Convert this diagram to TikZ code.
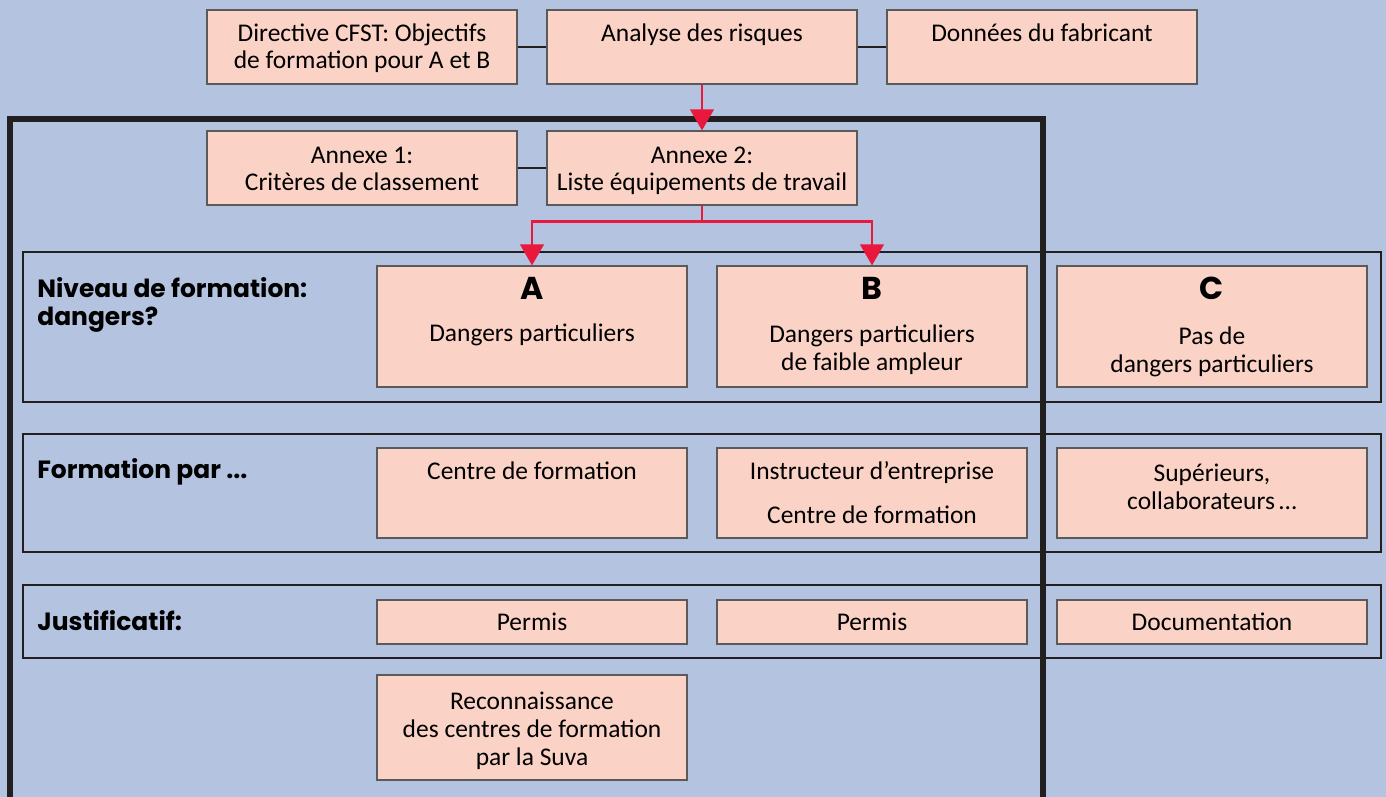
\documentclass[tikz,border=0pt]{standalone}
\usepackage{fontspec}
\setmainfont{Carlito}
\newfontfamily\headfont{Poppins}
\usetikzlibrary{arrows.meta}
\definecolor{bgblue}{HTML}{B3C3E0}
\definecolor{boxfill}{HTML}{FBD3C6}
\definecolor{boxline}{HTML}{5A5A5A}
\definecolor{frameblack}{HTML}{231F20}
\definecolor{arrowred}{HTML}{E8193C}

\begin{document}
\begin{tikzpicture}[x=0.02cm, y=-0.02cm,
    box/.style={draw=boxline, fill=boxfill, line width=0.7pt, inner sep=0pt, minimum width=6.2cm},
    txt/.style={align=center, inner sep=0pt, anchor=base, font=\fontsize{14.5}{15.9}\selectfont},
    head/.style={align=left, inner sep=0pt, anchor=base west, font=\headfont\bfseries\fontsize{14.2}{15.9}\selectfont},
    level/.style={inner sep=0pt, anchor=base, font=\headfont\bfseries\fontsize{18}{20}\selectfont},
    link/.style={draw=frameblack, line width=1.6pt},
    rowframe/.style={draw=frameblack, line width=1.6pt},
    redarrow/.style={draw=arrowred, line width=1.3pt, -{Triangle[length=12pt, width=13.5pt]}}]
    \useasboundingbox (0,0) rectangle (1386,797);
    \clip (0,0) rectangle (1386,797);
    \fill[bgblue] (0,0) rectangle (1386,797);

    % rows
    \draw[rowframe] (23,252) rectangle (1381,402);
    \draw[rowframe] (23,434) rectangle (1381,552);
    \draw[rowframe] (23,585) rectangle (1381,658);
    \draw[frameblack, line width=3.4pt] (10,820) -- (10,119) -- (1043,119) -- (1043,820);

    % top
    \node[box, minimum height=1.48cm] (dir) at (362,47) {};
    \node[box, minimum height=1.48cm] (ana) at (702,47) {};
    \node[box, minimum height=1.48cm] (don) at (1042,47) {};
    \node[box, minimum height=1.48cm] (an1) at (362,168) {};
    \node[box, minimum height=1.48cm] (an2) at (702,168) {};
    \draw[link] (dir) -- (ana);
    \draw[link] (ana) -- (don);
    \draw[link] (an1) -- (an2);
    \node[txt] (tdir) at (362,69) {Directive CFST: Objectifs\\de formation pour A et B};
    \node[txt] (tana) at (702,42) {Analyse des risques};
    \node[txt] (tdon) at (1042,42) {Données du fabricant};
    \node[txt] (tan1) at (362,191) {Annexe 1:\\Critères de classement};
    \node[txt] (tan2) at (702,191) {Annexe 2:\\Liste équipements de travail};

    % levels
    \node[box, minimum height=2.42cm] (bA) at (532,326.5) {};
    \node[box, minimum height=2.42cm] (bB) at (872,326.5) {};
    \node[box, minimum height=2.42cm] (bC) at (1212,326.5) {};
    \node[head] (hniv) at (37,325) {Niveau de formation:\\dangers?};
    \node[level] (lA) at (532,299) {A};
    \node[txt] (tA) at (532,341) {Dangers particuliers};
    \node[level] (lB) at (872,299) {B};
    \node[txt] (tB) at (872,370) {Dangers particuliers\\de faible ampleur};
    \node[level] (lC) at (1212,299) {C};
    \node[txt] (tC) at (1212,372) {Pas de\\dangers particuliers};

    % formation
    \node[box, minimum height=1.8cm] (fA) at (532,493) {};
    \node[box, minimum height=1.8cm] (fB) at (872,493) {};
    \node[box, minimum height=1.8cm] (fC) at (1212,493) {};
    \node[head] (hfor) at (37,478) {Formation par ...};
    \node[txt] (tfA) at (532,479) {Centre de formation};
    \node[txt] (tfB) at (872,523) {Instructeur d’entreprise\\[9pt]Centre de formation};
    \node[txt] (tfC) at (1212,509) {Supérieurs,\\collaborateurs\,…};

    % justificatif
    \node[box, minimum height=0.88cm] (jA) at (532,622) {};
    \node[box, minimum height=0.88cm] (jB) at (872,622) {};
    \node[box, minimum height=0.88cm] (jC) at (1212,622) {};
    \node[head] (hjus) at (37,630) {Justificatif:};
    \node[txt] (tjA) at (532,630) {Permis};
    \node[txt] (tjB) at (872,630) {Permis};
    \node[txt] (tjC) at (1212,630) {Documentation};

    \node[box, minimum height=2.1cm] (rec) at (532,727.5) {};
    \node[txt] (trec) at (532,765) {Reconnaissance\\des centres de formation\\par la Suva};

    % arrows
    \draw[redarrow] (ana) -- (an2);
    \draw[redarrow] (an2.south) -- ++(0,16) -| (bA.north);
    \draw[redarrow] (an2.south) -- ++(0,16) -| (bB.north);
\end{tikzpicture}
\end{document}
